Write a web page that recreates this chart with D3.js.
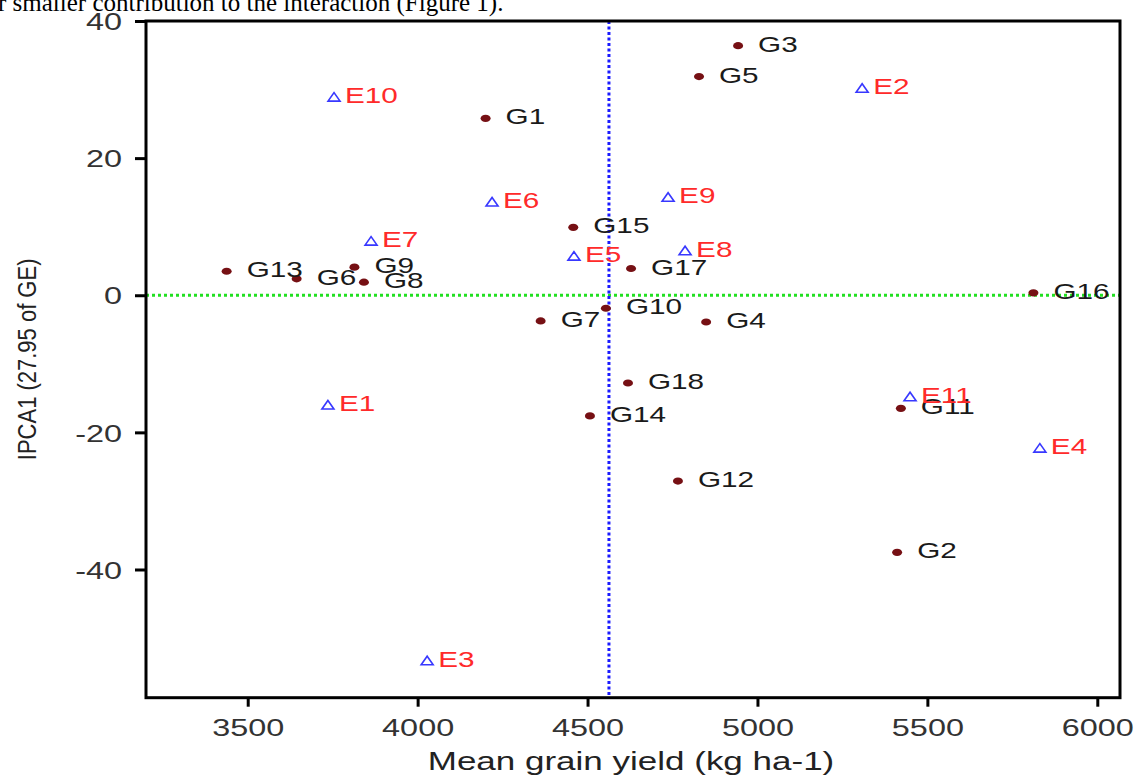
<!DOCTYPE html>
<html lang="en">
<head>
<meta charset="UTF-8">
<title>AMMI1 biplot</title>
<script src="https://cdnjs.cloudflare.com/ajax/libs/d3/7.8.5/d3.min.js"></script>
<style>
    body { margin: 0; padding: 0; background: #fff; }
    svg { display: block; font-family: 'Liberation Sans', Arial, sans-serif; }
    .tick line { stroke: #000; stroke-width: 3; }
    .tick text { fill: #333; font-size: 24px; }
    .g-label { fill: #1a1a1a; font-size: 22px; }
    .e-label { fill: #ff2a2a; font-size: 22px; }
</style>
</head>
<body>
<svg id="chart" width="1136" height="775"></svg>
<script>
// genotypes: mean yield and IPCA1 score
const genoNames = ["G1","G2","G3","G4","G5","G6","G7","G8","G9","G10","G11","G12","G13","G14","G15","G16","G17","G18"];
const genoYield = [4200, 5411, 4943, 4849, 4828, 3644, 4362, 3842, 3814, 4554, 5422, 4766, 3438, 4507, 4458, 5812, 4628, 4619];
const genoIPCA  = [25.8, -37.5, 36.4, -3.9, 31.9, 2.4, -3.75, 1.9, 4.1, -1.9, -16.5, -27.1, 3.5, -17.6, 9.9, 0.35, 3.9, -12.8];

// environments
const envNames = ["E1","E2","E3","E4","E5","E6","E7","E8","E9","E10","E11"];
const envYield = [3736, 5308, 4028, 5831, 4460, 4219, 3863, 4787, 4737, 3754, 5449];
const envIPCA  = [-16.0, 30.2, -53.3, -22.3, 5.7, 13.6, 7.9, 6.5, 14.3, 28.9, -14.8];

const grandMean = 4563;
const xTicks = [3500, 4000, 4500, 5000, 5500, 6000];
const yTicks = [-40, -20, 0, 20, 40];

const svg = d3.select("#chart");
const pLeft = 146, pRight = 1120, pTop = 21, pBottom = 697.7;
const sx = 1.35; // glyphs in the picture are wide

const x = d3.scaleLinear().domain([3200.7, 6066.8]).range([pLeft, pRight]);
const y = d3.scaleLinear().domain([-58.7, 40]).range([pBottom, pTop]);

// cut-off sentence from the page above the figure
svg.append("text")
    .attr("x", -2)
    .attr("y", 11)
    .style("font-family", "'Liberation Serif', 'Times New Roman', serif")
    .style("font-size", "25px")
    .attr("fill", "#000")
    .text("r smaller contribution to the interaction (Figure 1).");

// axes
const xAxis = svg.append("g")
    .attr("transform", `translate(0,${pBottom})`)
    .call(d3.axisBottom(x).tickValues(xTicks).tickSize(9).tickPadding(12).tickFormat(d => String(d)));
xAxis.select(".domain").remove();
xAxis.selectAll(".tick text").attr("transform", `scale(${sx},1)`);

const yAxis = svg.append("g")
    .attr("transform", `translate(${pLeft},0)`)
    .call(d3.axisLeft(y).tickValues(yTicks).tickSize(11).tickFormat(d => String(d)));
yAxis.select(".domain").remove();
yAxis.selectAll(".tick text")
    .attr("x", -24 / sx)
    .attr("dy", "0.36em")
    .attr("transform", `scale(${sx},1)`);

// reference lines
svg.append("line")
    .attr("x1", pLeft).attr("x2", pRight)
    .attr("y1", y(0)).attr("y2", y(0))
    .attr("stroke", "#22e022").attr("stroke-width", 3)
    .attr("stroke-dasharray", "3,3");

svg.append("line")
    .attr("x1", x(grandMean)).attr("x2", x(grandMean))
    .attr("y1", pTop).attr("y2", pBottom)
    .attr("stroke", "#1a1aff").attr("stroke-width", 3)
    .attr("stroke-dasharray", "3,2.5");

// frame
svg.append("rect")
    .attr("x", pLeft).attr("y", pTop)
    .attr("width", pRight - pLeft).attr("height", pBottom - pTop)
    .attr("fill", "none").attr("stroke", "#000").attr("stroke-width", 3);

// environments: open triangles
const envs = envNames.map((n, i) => ({ name: n, yield: envYield[i], ipca: envIPCA[i] }));
svg.selectAll("path.env")
    .data(envs)
    .enter()
    .append("path")
    .attr("class", "env")
    .attr("d", d => {
        const cx = x(d.yield), cy = y(d.ipca);
        return `M${cx - 6},${cy + 4}L${cx + 6},${cy + 4}L${cx},${cy - 4.5}Z`;
    })
    .attr("fill", "none")
    .attr("stroke", "#3838ff")
    .attr("stroke-width", 1.6);

// genotypes: filled dots
const genos = genoNames.map((n, i) => ({ name: n, yield: genoYield[i], ipca: genoIPCA[i] }));
svg.selectAll("ellipse.geno")
    .data(genos)
    .enter()
    .append("ellipse")
    .attr("class", "geno")
    .attr("cx", d => x(d.yield))
    .attr("cy", d => y(d.ipca))
    .attr("rx", 5)
    .attr("ry", 3.6)
    .attr("fill", "#761014");

svg.selectAll("text.g-label")
    .data(genos)
    .enter()
    .append("text")
    .attr("class", "g-label")
    .attr("transform", d => `translate(${x(d.yield) + 20},${y(d.ipca) + 6}) scale(${sx},1)`)
    .text(d => d.name);

svg.selectAll("text.e-label")
    .data(envs)
    .enter()
    .append("text")
    .attr("class", "e-label")
    .attr("transform", d => `translate(${x(d.yield) + 11},${y(d.ipca) + 6}) scale(${sx},1)`)
    .text(d => d.name);

// axis titles
svg.append("text")
    .attr("transform", `translate(${(pLeft + pRight) / 2 - 2},770) scale(1.4,1)`)
    .attr("text-anchor", "middle")
    .style("font-size", "25px")
    .attr("fill", "#222")
    .text("Mean grain yield (kg ha-1)");

svg.append("text")
    .attr("transform", `translate(36,${(pTop + pBottom) / 2}) scale(1.2,1) rotate(-90)`)
    .attr("text-anchor", "middle")
    .style("font-size", "22px")
    .attr("fill", "#222")
    .text("IPCA1 (27.95 of GE)");
</script>
</body>
</html>
